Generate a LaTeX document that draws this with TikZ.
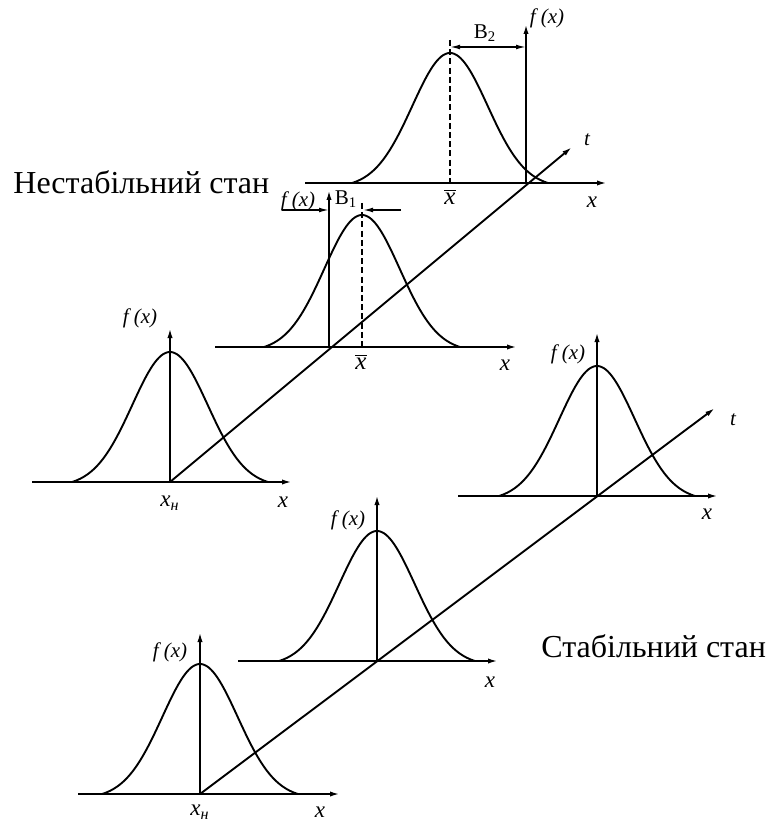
\documentclass[tikz,border=0pt]{standalone}
\usepackage{fontspec}
\setmainfont{Liberation Serif}
\usetikzlibrary{arrows.meta}
\newcommand\bellcurve[3]{% peak x, axis y, height
  \draw[curve] plot[domain=-98:98,samples=91,smooth]
    ({#1+\x},{#2-#3*(exp(-(\x*\x)/2842)-0.0342)/0.9658});}
\begin{document}
\begin{tikzpicture}[x=0.5pt,y=-0.5pt,
  curve/.style={line width=0.95pt},
  ax/.style={line width=0.95pt,-{Latex[length=5pt,width=2.6pt]}},
  dimarrow/.style={line width=0.7pt,-{Latex[length=5pt,width=2.4pt]}},
  dsh/.style={line width=1.3pt,dash pattern=on 3pt off 1.6pt},
  lbl/.style={font=\fontsize{10.5}{12}\selectfont\itshape,inner sep=0pt},
  xlbl/.style={font=\fontsize{11.5}{13}\selectfont\itshape,inner sep=0pt},
  big/.style={font=\fontsize{16}{19}\selectfont,inner sep=0pt}]
\useasboundingbox (0,0) rectangle (768,823);

% ---------- unstable: top diagram ----------
\coordinate (A1s) at (305,183); \coordinate (A1e) at (607,183);
\coordinate (O1) at (526,183);  \coordinate (F1) at (526,24);
\coordinate (D1t) at (450,40);  \coordinate (D1b) at (450,183);
\coordinate (B2l) at (450,47);  \coordinate (B2r) at (526,47);
\bellcurve{450}{183}{130}
\draw[ax] (A1s) -- (A1e);
\draw[ax] (O1) -- (F1);
\draw[dsh] (D1t) -- (D1b);
\draw[line width=0.7pt,{Latex[length=5pt,width=2.4pt]}-{Latex[length=5pt,width=2.4pt]}] (B2l) -- (B2r);
\node[lbl] (f1) at (547,18) {f (x)};
\node[font=\fontsize{10.5}{12}\selectfont,inner sep=0pt] (b2) at (485,33) {В\textsubscript{2}};
\node[font=\fontsize{12.5}{14}\selectfont,inner sep=0pt] (xb1) at (450,197) {$\overline{\mbox{\itshape x}}$};
\node[xlbl] (x1) at (592,202) {x};
\node[lbl] (t1) at (587,140) {t};

% ---------- unstable: middle diagram ----------
\coordinate (A2s) at (215,347); \coordinate (A2e) at (517,347);
\coordinate (O2) at (329,347);  \coordinate (F2) at (329,190);
\coordinate (D2t) at (362,203); \coordinate (D2b) at (362,347);
\coordinate (B1a) at (282,210); \coordinate (B1b) at (329,210);
\coordinate (B1c) at (401,210); \coordinate (B1d) at (363,210);
\bellcurve{362}{347}{132}
\draw[ax] (A2s) -- (A2e);
\draw[ax] (O2) -- (F2);
\draw[dsh] (D2t) -- (D2b);
\draw[dimarrow] (B1a) -- (B1b);
\draw[dimarrow] (B1c) -- (B1d);
\node[lbl] (f2) at (298,201) {f (x)};
\node[font=\fontsize{10.5}{12}\selectfont,inner sep=0pt] (b1) at (346,199) {В\textsubscript{1}};
\node[font=\fontsize{12.5}{14}\selectfont,inner sep=0pt] (xb2) at (361,362) {$\overline{\mbox{\itshape x}}$};
\node[xlbl] (x2) at (505,365) {x};

% ---------- unstable: left diagram ----------
\coordinate (A3s) at (32,482);  \coordinate (A3e) at (292,482);
\coordinate (O3) at (170,482);  \coordinate (F3) at (170,328);
\bellcurve{170}{482}{130}
\draw[ax] (A3s) -- (A3e);
\draw[ax] (O3) -- (F3);
\node[lbl] (f3) at (140,318) {f (x)};
\node[xlbl] (xn3) at (170,503) {x\textsubscript{н}};
\node[xlbl] (x3) at (283,502) {x};

% unstable time axis
\coordinate (T1) at (572,147);
\draw[ax] (O3) -- (T1);

% ---------- stable: right diagram ----------
\coordinate (A4s) at (458,496); \coordinate (A4e) at (718,496);
\coordinate (O4) at (597,496);  \coordinate (F4) at (597,332);
\bellcurve{597}{496}{130}
\draw[ax] (A4s) -- (A4e);
\draw[ax] (O4) -- (F4);
\node[lbl] (f4) at (568,354) {f (x)};
\node[xlbl] (x4) at (707,514) {x};
\node[lbl] (t2) at (733,420) {t};

% ---------- stable: middle diagram ----------
\coordinate (A5s) at (238,661); \coordinate (A5e) at (498,661);
\coordinate (O5) at (377,661);  \coordinate (F5) at (377,495);
\bellcurve{377}{661}{130}
\draw[ax] (A5s) -- (A5e);
\draw[ax] (O5) -- (F5);
\node[lbl] (f5) at (348,520) {f (x)};
\node[xlbl] (x5) at (490,682) {x};

% ---------- stable: bottom diagram ----------
\coordinate (A6s) at (78,794);  \coordinate (A6e) at (340,794);
\coordinate (O6) at (200,794);  \coordinate (F6) at (200,632);
\bellcurve{200}{794}{130}
\draw[ax] (A6s) -- (A6e);
\draw[ax] (O6) -- (F6);
\node[lbl] (f6) at (170,652) {f (x)};
\node[xlbl] (xn6) at (200,812) {x\textsubscript{н}};
\node[xlbl] (x6) at (320,812) {x};

% stable time axis
\coordinate (T2) at (715,408);
\draw[ax] (O6) -- (T2);

% ---------- captions ----------
\node[big,anchor=west] (uns) at (13,182) {Нестабільний стан};
\node[big,anchor=west] (sta) at (541,646) {Стабільний стан};
\end{tikzpicture}
\end{document}
